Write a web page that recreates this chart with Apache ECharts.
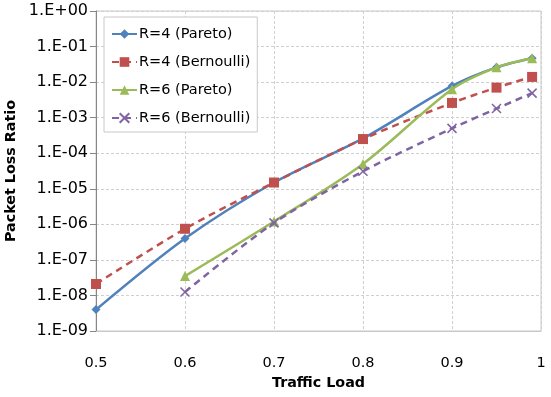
<!DOCTYPE html>
<html>
<head>
<meta charset="utf-8">
<script src="https://cdn.jsdelivr.net/npm/echarts@6/dist/echarts.min.js"></script>
<style>
  html, body { margin: 0; padding: 0; background: #fff; }
  #chart { width: 551px; height: 397px; }
</style>
</head>
<body>
<div id="chart"></div>
<script>
// Traffic load values on the x axis
const loads = [0.5, 0.6, 0.7, 0.8, 0.9, 0.95, 0.99];

// Packet loss ratio per configuration (null = not simulated)
const r4Pareto    = [4.0e-9, 4.0e-7, 1.5e-5, 2.6e-4, 7.8e-3, 2.6e-2, 4.7e-2];
const r4Bernoulli = [2.1e-8, 7.5e-7, 1.5e-5, 2.5e-4, 2.6e-3, 7.0e-3, 1.4e-2];
const r6Pareto    = [null,   3.5e-8, 1.2e-6, 5.0e-5, 6.3e-3, 2.6e-2, 4.7e-2];
const r6Bernoulli = [null,   1.25e-8, 1.1e-6, 3.1e-5, 5.0e-4, 1.8e-3, 4.9e-3];

const seriesNames = ['R=4 (Pareto)', 'R=4 (Bernoulli)', 'R=6 (Pareto)', 'R=6 (Bernoulli)'];
const seriesData = [r4Pareto, r4Bernoulli, r6Pareto, r6Bernoulli];
const colors = ['#4F81BD', '#C0504D', '#9BBB59', '#8064A2'];

const FONT = '"DejaVu Sans", "Liberation Sans", sans-serif';

function pairs(values) {
  const out = [];
  values.forEach((v, i) => { if (v !== null) out.push([loads[i], v]); });
  return out;
}

function sciLabel(v) {
  const e = Math.round(Math.log10(v));
  const a = Math.abs(e);
  return '1.E' + (e < 0 ? '-' : '+') + (a < 10 ? '0' + a : String(a));
}

const styles = [
  { symbol: 'diamond', symbolSize: 9, type: 'solid' },
  { symbol: 'rect', symbolSize: 10, type: [7, 5] },
  { symbol: 'triangle', symbolSize: 10, type: 'solid' },
  { symbol: 'path://M0,0 L10,10 M10,0 L0,10', symbolSize: 9, type: [7, 5] }
];

const series = seriesNames.map((name, i) => {
  const s = styles[i];
  const isCross = i === 3;
  return {
    name: name,
    type: 'line',
    data: pairs(seriesData[i]),
    smooth: 0.3,
    symbol: s.symbol,
    symbolSize: s.symbolSize,
    showAllSymbol: true,
    lineStyle: { color: colors[i], width: 2.5, type: s.type },
    itemStyle: isCross
      ? { color: colors[i], borderColor: colors[i], borderWidth: 1.5 }
      : { color: colors[i], borderWidth: 0 },
    emphasis: { disabled: true },
    z: 3 + i
  };
});

const chart = echarts.init(document.getElementById('chart'), null, { renderer: 'canvas' });
chart.setOption({
  animation: false,
  backgroundColor: '#ffffff',
  color: colors,
  grid: {
    left: 96, right: 10, top: 11, bottom: 66,
    containLabel: false,
    outerBoundsMode: 'none',
    show: true, borderColor: '#c8c8c8', borderWidth: 1, backgroundColor: 'transparent'
  },
  legend: {
    orient: 'vertical',
    left: 104, top: 17,
    padding: [8, 7, 5, 7],
    itemGap: 10,
    itemWidth: 25,
    itemHeight: 12,
    backgroundColor: '#ffffff',
    borderColor: '#c8c8c8',
    borderWidth: 1,
    textStyle: { fontFamily: FONT, fontSize: 14.5, lineHeight: 18, color: '#000', padding: [0, 0, 0, -3] },
    data: seriesNames
  },
  xAxis: {
    type: 'value',
    min: 0.5, max: 1, interval: 0.1,
    name: 'Traffic Load',
    nameLocation: 'middle',
    nameGap: 44,
    nameTextStyle: { fontFamily: FONT, fontSize: 14.3, fontWeight: 'bold', color: '#000' },
    axisLine: { show: true, lineStyle: { color: '#c8c8c8', width: 1 } },
    axisTick: { show: false },
    axisLabel: {
      fontFamily: FONT, fontSize: 14.5, color: '#000', margin: 25,
      formatter: v => (Math.round(v * 10) / 10).toString()
    },
    splitLine: { show: true, lineStyle: { color: '#d0d0d0', type: [3, 2], width: 1 } }
  },
  yAxis: {
    type: 'log',
    logBase: 10,
    min: 1e-9, max: 1,
    name: 'Packet Loss Ratio',
    nameLocation: 'middle',
    nameGap: 66,
    nameRotate: 90,
    nameTextStyle: { fontFamily: FONT, fontSize: 14.3, fontWeight: 'bold', color: '#000' },
    axisLine: { show: true, lineStyle: { color: '#868686', width: 1 } },
    axisTick: { show: true, inside: false, length: 6, lineStyle: { color: '#868686' } },
    minorTick: { show: false },
    axisLabel: {
      fontFamily: FONT, fontSize: 16, color: '#000', margin: 8,
      padding: [4, 0, 0, 0], formatter: sciLabel
    },
    splitLine: { show: true, lineStyle: { color: '#d0d0d0', type: [3, 2], width: 1 } }
  },
  series: series
});
</script>
</body>
</html>
